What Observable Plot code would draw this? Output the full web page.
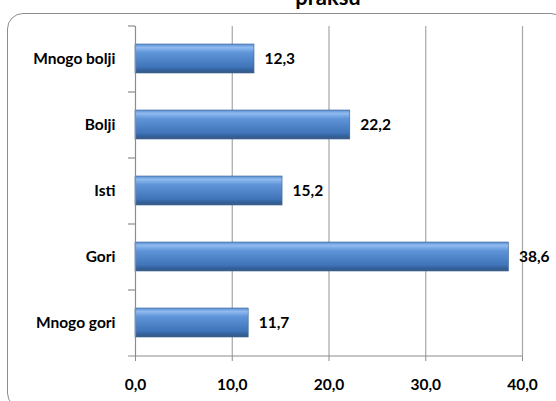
<!DOCTYPE html>
<html>
<head>
<meta charset="utf-8">
<script src="https://cdn.jsdelivr.net/npm/d3@7"></script>
<script src="https://cdn.jsdelivr.net/npm/@observablehq/plot@0.6"></script>
<style>
  html, body { margin: 0; padding: 0; background: #fff; overflow: hidden; }
  #wrap { position: relative; width: 556px; height: 401px; overflow: hidden; font-family: Lato, "Open Sans", sans-serif; }
  #frame { position: absolute; left: 7px; top: 13px; width: 560px; height: 396px; border: 1px solid #8c8c8c; border-radius: 16px; box-sizing: border-box; }
  #title { position: absolute; left: 0; width: 656px; top: -14px; text-align: center; font-weight: bold; font-size: 22px; line-height: 22px; color: #000; }
  #chart { position: absolute; left: 0; top: 0; }
</style>
</head>
<body>
<div id="wrap">
  <div id="frame"></div>
  <div id="title">praksu</div>
  <div id="chart"></div>
</div>
<script>
const categories = ["Mnogo bolji", "Bolji", "Isti", "Gori", "Mnogo gori"];
const values = [12.3, 22.2, 15.2, 38.6, 11.7];
const xTicks = [0, 10, 20, 30, 40];

const data = categories.map((c, i) => ({category: c, value: values[i]}));
const fmt = d => d.toFixed(1).replace(".", ",");
const gray = "#8c8c8c";
const fs = 15.5;

const plot = Plot.plot({
  width: 556,
  height: 401,
  marginLeft: 135,
  marginRight: 34,
  marginTop: 26,
  marginBottom: 45,
  style: {fontFamily: "Lato, 'Open Sans', sans-serif", fontSize: fs + "px", fontWeight: "bold", color: "#000", background: "transparent"},
  x: {domain: [0, 40], ticks: xTicks, tickFormat: fmt, label: null},
  y: {domain: categories, paddingInner: 0.56, paddingOuter: 0.28, label: null},
  marks: [
    Plot.ruleX(xTicks.slice(1), {stroke: "#a6a6a6", strokeWidth: 1.2, strokeOpacity: 1}),
    Plot.barX(data, {x: "value", y: "category", fill: "url(#barGrad)", stroke: "#3a6597", strokeWidth: 0.6}),
    Plot.text(data, {x: "value", y: "category", text: d => fmt(d.value), textAnchor: "start", dx: 10, fontSize: fs, fontWeight: "bold", fill: "#000"}),
    // y axis line and boundary ticks
    Plot.ruleX([0], {stroke: gray, strokeWidth: 1.2}),
    Plot.ruleY(categories, {y: d => d, x1: -0.72, x2: 0, dy: -33, stroke: gray, strokeWidth: 1.2}),
    Plot.ruleY([categories[categories.length - 1]], {y: d => d, x1: -0.72, x2: 40, dy: 33, stroke: gray, strokeWidth: 1.2}),
    Plot.axisY({tickSize: 0, tickPadding: 20, fontSize: fs, fontWeight: "bold"}),
    Plot.axisX({ticks: xTicks, tickFormat: fmt, tickSize: 5, tickPadding: 17, stroke: gray, fontSize: fs, fontWeight: "bold"})
  ]
});

// gradient definition for the bevelled bars
const svgNS = "http://www.w3.org/2000/svg";
const defs = document.createElementNS(svgNS, "defs");
defs.innerHTML = `
<linearGradient id="barGrad" x1="0" y1="0" x2="0" y2="1">
  <stop offset="0" stop-color="#5b8fd0"/>
  <stop offset="0.12" stop-color="#8fbaf0"/>
  <stop offset="0.3" stop-color="#5f95d8"/>
  <stop offset="0.8" stop-color="#3f74b8"/>
  <stop offset="0.9" stop-color="#32609c"/>
  <stop offset="1" stop-color="#3d5a80"/>
</linearGradient>`;
plot.insertBefore(defs, plot.firstChild);
document.getElementById("chart").appendChild(plot);
</script>
</body>
</html>
